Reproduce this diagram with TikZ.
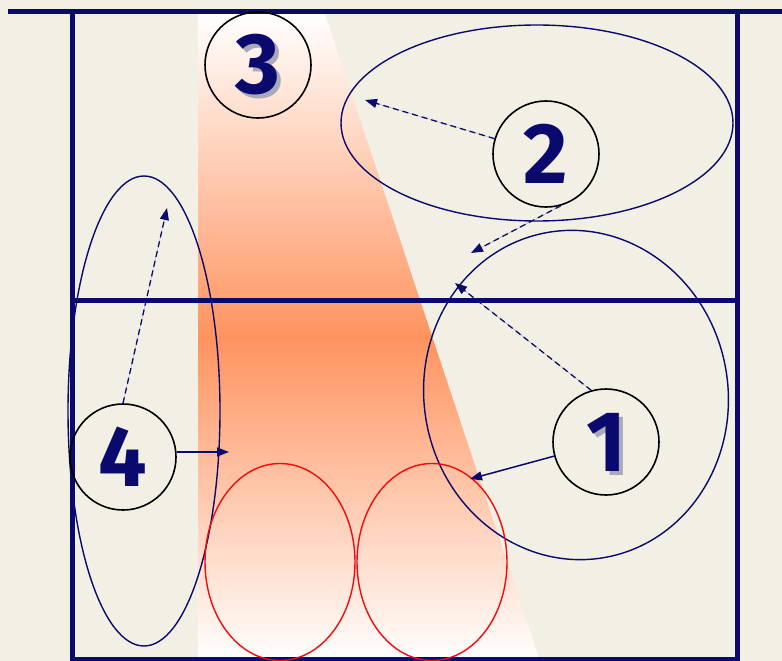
\documentclass[tikz,border=0pt]{standalone}
\usepackage{fontspec}
\newfontfamily\digitfont{Fira Sans}
\usetikzlibrary{arrows.meta,shapes.geometric}
\definecolor{CourtNavy}{HTML}{0A0A6E}
\definecolor{CourtBeige}{HTML}{F2EFE4}
\definecolor{CourtOrange}{HTML}{FF935F}
\definecolor{CourtRed}{HTML}{F50A0A}
\definecolor{CourtShadow}{HTML}{A9A9BC}

\begin{document}
\begin{tikzpicture}[x=1pt,y=-1pt,
      >={Triangle[length=12pt,width=9pt]},
      court/.style={draw=CourtNavy,line width=5pt},
      zone/.style={ellipse,draw=CourtNavy,line width=1.4pt,inner sep=0pt},
      block/.style={ellipse,draw=CourtRed,line width=1.4pt,inner sep=0pt,
        minimum width=150pt,minimum height=197pt},
      spot/.style={circle,draw=black,line width=1.6pt,minimum size=106pt,inner sep=0pt,
        font=\digitfont\bfseries\fontsize{86}{86}\selectfont,text=CourtNavy},
      ghost/.style={inner sep=0pt,font=\digitfont\bfseries\fontsize{86}{86}\selectfont,
        text=CourtShadow},
      dflow/.style={->,draw=CourtNavy,fill=CourtNavy,line width=1.3pt,
        dash pattern=on 6pt off 4pt},
      sflow/.style={->,draw=CourtNavy,fill=CourtNavy,line width=1.5pt}
    ]
    \useasboundingbox (0,0) rectangle (782,661);
    \fill[CourtBeige] (0,0) rectangle (782,661);

    % setter lane
    \shade[top color=white,bottom color=white,middle color=CourtOrange]
      (198,14) -- (325,14) -- (540,661) -- (198,661) -- cycle;

    % court
    \draw[court] (8,12) -- (782,12);
    \draw[court] (72,12) -- (72,659) -- (737,659) -- (737,12);
    \draw[court] (70,300) -- (740,300);

    % zones
    \node[zone,minimum width=392pt,minimum height=196pt] (z2) at (537,123) {};
    \node[zone,minimum width=304pt,minimum height=330pt,rotate=10] (z1) at (576,395) {};
    \node[zone,minimum width=152pt,minimum height=470pt] (z4) at (144,411) {};
    \node[block] (b1) at (280,562) {};
    \node[block] (b2) at (432,562) {};

    % players
    \node[ghost] at (262,69) {3};
    \node[ghost] at (610,446) {1};
    \node[spot] (c3) at (258,65) {3};
    \node[spot] (c2) at (546,154) {2};
    \node[spot] (c1) at (606,442) {1};
    \node[spot] (c4) at (123,457) {4};

    \coordinate (t2a) at (365,100);
    \coordinate (t2b) at (471,253);
    \coordinate (t1a) at (455,283);
    \coordinate (t1b) at (470,479);
    \coordinate (t4a) at (167,208);
    \coordinate (t4b) at (229,452);

    \draw[dflow] (c2) -- (t2a);
    \draw[dflow] (c2.-74) -- (t2b);
    \draw[dflow] (c1.106) -- (t1a);
    \draw[sflow] (c1) -- (t1b);
    \draw[dflow] (c4.north) -- (t4a);
    \draw[sflow] (c4.east |- t4b) -- (t4b);
  \end{tikzpicture}
\end{document}
